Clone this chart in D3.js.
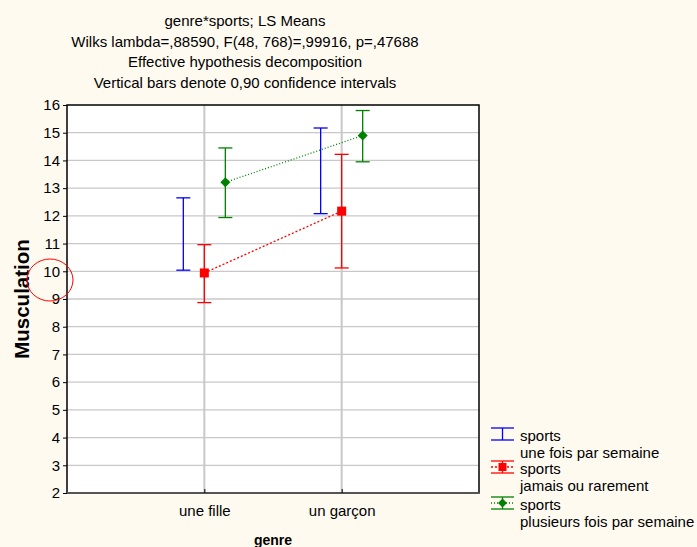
<!DOCTYPE html>
<html lang="fr">
<head>
    <meta charset="UTF-8">
    <script src="https://d3js.org/d3.v7.min.js"></script>
    <title>genre*sports</title>
    <style>
        body { margin: 0; background: #fefaf0; }
        text { font-family: "Liberation Sans", Arial, sans-serif; fill: #000; }
        .grid line { stroke: #c8c8c8; stroke-width: 1.3; }
    </style>
</head>
<body>
    <svg width="697" height="547"></svg>
    <script>
        // data
        var categories = ["une fille", "un garçon"];
        var seriesNames = ["une fois par semaine", "jamais ou rarement", "plusieurs fois par semaine"];
        var titleLines = ["genre*sports; LS Means",
                          "Wilks lambda=,88590, F(48, 768)=,99916, p=,47688",
                          "Effective hypothesis decomposition",
                          "Vertical bars denote 0,90 confidence intervals"];
        var yTicks = [2, 3, 4, 5, 6, 7, 8, 9, 10, 11, 12, 13, 14, 15, 16];

        var blueMean = [11.35, 13.62], blueLow = [10.04, 12.08], blueHigh = [12.65, 15.17];
        var redMean = [9.94, 12.17], redLow = [8.87, 10.12], redHigh = [10.96, 14.22];
        var greenMean = [13.21, 14.90], greenLow = [11.94, 13.95], greenHigh = [14.45, 15.80];

        var series = [
            {name: seriesNames[0], color: "#0000ff", mean: blueMean, low: blueLow, high: blueHigh, off: -0.153, marker: null, dash: null},
            {name: seriesNames[1], color: "#ff0000", mean: redMean, low: redLow, high: redHigh, off: 0, marker: "square", dash: "2,2"},
            {name: seriesNames[2], color: "#008000", mean: greenMean, low: greenLow, high: greenHigh, off: 0.153, marker: "diamond", dash: "1,2"}
        ];

        var svg = d3.select("svg");
        var pLeft = 67, pRight = 479, pTop = 105, pBottom = 493;

        var x = d3.scaleLinear().domain([0, 3]).range([pLeft, pRight]);
        var y = d3.scaleLinear().domain([2, 16]).range([pBottom, pTop]);

        // plot area
        svg.append("rect")
           .attr("x", pLeft).attr("y", pTop)
           .attr("width", pRight - pLeft).attr("height", pBottom - pTop)
           .attr("fill", "#fff");

        // grid
        var grid = svg.append("g").attr("class", "grid");
        grid.selectAll(".h").data(yTicks.slice(1, -1)).enter().append("line")
            .attr("x1", pLeft).attr("x2", pRight)
            .attr("y1", function(d) { return y(d); }).attr("y2", function(d) { return y(d); });
        grid.selectAll(".v").data(categories).enter().append("line")
            .attr("y1", pTop).attr("y2", pBottom)
            .attr("x1", function(d, i) { return x(i + 1); }).attr("x2", function(d, i) { return x(i + 1); })
            .style("stroke-width", 2);

        // frame
        svg.append("rect")
           .attr("x", pLeft).attr("y", pTop)
           .attr("width", pRight - pLeft).attr("height", pBottom - pTop)
           .attr("fill", "none").attr("stroke", "#000").attr("stroke-width", 1.5);
        svg.append("line")
           .attr("x1", pLeft).attr("x2", pRight).attr("y1", pBottom).attr("y2", pBottom)
           .attr("stroke", "#555").attr("stroke-width", 2);

        // y axis
        var yAxis = svg.append("g")
            .attr("transform", "translate(" + pLeft + ",0)")
            .call(d3.axisLeft(y).tickValues(yTicks).tickSize(4).tickPadding(3).tickFormat(d3.format("d")));
        yAxis.select(".domain").remove();
        yAxis.selectAll("text").style("font-size", "15px").style("font-family", "Liberation Sans, Arial, sans-serif");

        // x axis
        var xAxis = svg.append("g")
            .attr("transform", "translate(0," + pBottom + ")")
            .call(d3.axisBottom(x).tickValues([1, 2]).tickSize(-4).tickPadding(12)
                     .tickFormat(function(d) { return categories[d - 1]; }));
        xAxis.select(".domain").remove();
        xAxis.selectAll("text").style("font-size", "15px").style("font-family", "Liberation Sans, Arial, sans-serif");

        // connecting lines
        series.forEach(function(s) {
            if (!s.dash) return;
            var line = d3.line()
                .x(function(d, i) { return x(i + 1 + s.off); })
                .y(function(d) { return y(d); });
            svg.append("path")
               .datum(s.mean)
               .attr("d", line)
               .attr("fill", "none")
               .attr("stroke", s.color)
               .attr("stroke-width", 1.3)
               .attr("stroke-dasharray", s.dash);
        });

        // error bars
        series.forEach(function(s) {
            var g = svg.append("g").attr("stroke", s.color).attr("stroke-width", 1.3);
            categories.forEach(function(c, i) {
                var cx = x(i + 1 + s.off);
                g.append("line").attr("x1", cx).attr("x2", cx)
                 .attr("y1", y(s.low[i])).attr("y2", y(s.high[i]));
                g.append("line").attr("x1", cx - 7).attr("x2", cx + 7)
                 .attr("y1", y(s.low[i])).attr("y2", y(s.low[i]));
                g.append("line").attr("x1", cx - 7).attr("x2", cx + 7)
                 .attr("y1", y(s.high[i])).attr("y2", y(s.high[i]));
            });
        });

        function drawMarker(g, type, cx, cy, color, size) {
            if (type === "square") {
                g.append("rect").attr("x", cx - size / 2).attr("y", cy - size / 2)
                 .attr("width", size).attr("height", size).attr("fill", color);
            } else if (type === "diamond") {
                var h = size / 2 + 0.5;
                g.append("path")
                 .attr("d", "M" + cx + "," + (cy - h) + "L" + (cx + h) + "," + cy + "L" + cx + "," + (cy + h) + "L" + (cx - h) + "," + cy + "Z")
                 .attr("fill", color);
            }
        }

        // means
        series.forEach(function(s) {
            if (!s.marker) return;
            var g = svg.append("g");
            s.mean.forEach(function(m, i) {
                drawMarker(g, s.marker, x(i + 1 + s.off), y(m), s.color, 9);
            });
        });

        // titles
        svg.selectAll(".title").data(titleLines).enter().append("text")
           .attr("x", 245).attr("y", function(d, i) { return 26 + i * 20.5; })
           .attr("text-anchor", "middle")
           .style("font-size", "15px")
           .text(function(d) { return d; });

        svg.append("text")
           .attr("transform", "translate(29," + (pTop + pBottom) / 2 + ") rotate(-90)")
           .attr("text-anchor", "middle")
           .style("font-size", "20.5px").style("font-weight", "bold")
           .text("Musculation");

        svg.append("text")
           .attr("x", 273).attr("y", 545)
           .attr("text-anchor", "middle")
           .style("font-size", "14px").style("font-weight", "bold")
           .text("genre");

        // legend
        var legend = svg.append("g").attr("transform", "translate(491,0)");
        var legendY = [434, 467, 503];
        series.forEach(function(s, i) {
            var cy = legendY[i];
            var g = legend.append("g").attr("stroke", s.color).attr("stroke-width", 1.3);
            g.append("line").attr("x1", 0).attr("x2", 23).attr("y1", cy - 6).attr("y2", cy - 6);
            g.append("line").attr("x1", 0).attr("x2", 23).attr("y1", cy + 6).attr("y2", cy + 6);
            g.append("line").attr("x1", 11.5).attr("x2", 11.5).attr("y1", cy - 6).attr("y2", cy + 6);
            if (s.dash) {
                g.append("line").attr("x1", 0).attr("x2", 23).attr("y1", cy).attr("y2", cy)
                 .attr("stroke-dasharray", s.dash);
            }
            if (s.marker) drawMarker(legend, s.marker, 11.5, cy, s.color, 8);
            legend.append("text").attr("x", 29).attr("y", cy + 7).style("font-size", "15px").text("sports");
            legend.append("text").attr("x", 29).attr("y", cy + 24).style("font-size", "15px").text(s.name);
        });

        // red circle annotation on the chart
        svg.append("ellipse")
           .attr("cx", 50).attr("cy", 280).attr("rx", 23).attr("ry", 21)
           .attr("fill", "none").attr("stroke", "#ff0000").attr("stroke-width", 1);
    </script>
</body>
</html>
